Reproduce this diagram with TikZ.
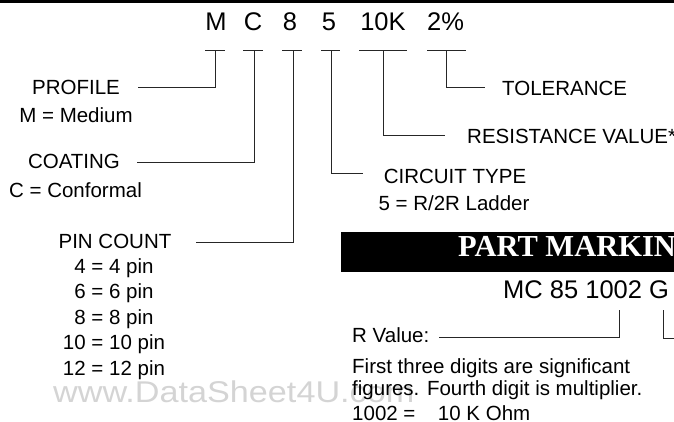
\documentclass[tikz,border=0pt]{standalone}
\usepackage{fontspec}
\usepackage{graphicx}
\setmainfont{Liberation Sans}
\newfontfamily\myserif{Liberation Serif}
\newcommand{\myfs}[1]{\fontsize{#1}{#1}\selectfont}
\begin{document}
\begin{tikzpicture}[x=1pt,y=-1pt,
  lbl/.style={font=\myfs{20.5}, inner sep=0pt, anchor=base},
  lblw/.style={font=\myfs{20.5}, inner sep=0pt, anchor=base west},
  big/.style={font=\myfs{25.5}, inner sep=0pt, anchor=base},
  conn/.style={draw=black!85, line width=1pt},
  tick/.style={draw=black!85, line width=1pt}]
\useasboundingbox (0,0) rectangle (674,421);
\clip (0,0) rectangle (674,421);
\fill[black] (0,0) rectangle (674,3.3);

% watermark
\node[inner sep=0pt, anchor=base west, text=black!17, font=\myfs{30}] (wm) at (53,402)
  {\scalebox{1.14}[1]{www.DataSheet4U.com}};

% top code letters
\node[big] (lM) at (216,30) {M};
\node[big] (lC) at (253,30) {C};
\node[big] (l8) at (290,30) {8};
\node[big] (l5) at (329,30) {5};
\node[big] (lK) at (383,30) {10K};
\node[big, anchor=base west] (lP) at (427,30) {2\%};

% tick coordinates
\coordinate (tM) at (215,50);  \coordinate (tMa) at (205,50); \coordinate (tMb) at (225,50);
\coordinate (tC) at (254,50);  \coordinate (tCa) at (243,50); \coordinate (tCb) at (263,50);
\coordinate (t8) at (293,50);  \coordinate (t8a) at (282,50); \coordinate (t8b) at (302,50);
\coordinate (t5) at (331,50);  \coordinate (t5a) at (321,50); \coordinate (t5b) at (340,50);
\coordinate (tK) at (383,50);  \coordinate (tKa) at (359,50); \coordinate (tKb) at (407,50);
\coordinate (tP) at (446,50);  \coordinate (tPa) at (427,50); \coordinate (tPb) at (466,50);
\foreach \a/\b in {tMa/tMb,tCa/tCb,t8a/t8b,t5a/t5b,tKa/tKb,tPa/tPb}
  \draw[tick] (\a) -- (\b);

% left labels
\node[lbl] (prof) at (76,94) {PROFILE};
\node[lbl] (profv) at (76,122) {M = Medium};
\node[lbl] (coat) at (74,168) {COATING};
\node[lbl] (coatv) at (75.5,197) {C = Conformal};
\node[lbl] (pin) at (115,248) {PIN COUNT};
\node[lbl] (pin4) at (114,273) {4 = 4 pin};
\node[lbl] (pin6) at (114,298.5) {6 = 6 pin};
\node[lbl] (pin8) at (114,324) {8 = 8 pin};
\node[lbl] (pin10) at (114,349.5) {10 = 10 pin};
\node[lbl] (pin12) at (114,375) {12 = 12 pin};

% right labels
\node[lblw] (tol) at (502,95) {TOLERANCE};
\node[lblw] (res) at (467,143) {RESISTANCE VALUE*};
\node[lbl] (circ) at (455,183) {CIRCUIT TYPE};
\node[lbl] (circv) at (454,210) {5 = R/2R Ladder};

% connectors
\draw[conn] (tM) |- ([xshift=18pt,yshift=-1pt]prof.east);
\draw[conn] (tC) |- ([xshift=17pt,yshift=-1.5pt]coat.east);
\draw[conn] (t8) |- ([xshift=24pt,yshift=-1.5pt]pin.east);
\draw[conn] (t5) |- ([xshift=-21pt,yshift=2.5pt]circ.west);
\draw[conn] (tK) |- ([xshift=-22pt]res.west);
\draw[conn] (tP) |- ([xshift=-17pt]tol.west);

% part marking
\node[fill=black, minimum width=333pt, minimum height=40pt, inner sep=0pt, anchor=north west] (bar) at (341,232) {};
\node[inner sep=0pt, anchor=base west, text=white, font=\myserif\bfseries\myfs{30.5}] (pm) at (458,256) {PART MARKING};
\node[inner sep=0pt, anchor=base west, font=\myfs{25.5}] (code) at (503,298) {MC 85 1002 G};

\coordinate (c1002) at (619,310);
\coordinate (cG) at (663,310);
\coordinate (gEnd) at (690,338);
\node[lblw] (rval) at (352,342) {R Value:};
\node[lblw] (d1) at (352,373) {First three digits are significant};
\node[lblw] (d2) at (352,395) {figures. Fourth digit is multiplier.};
\node[lblw] (d3) at (352,420) {1002 =\hspace{1.1em}10 K Ohm};
\draw[conn] (c1002) |- ([xshift=9pt,yshift=-2.5pt]rval.east);
\draw[conn] (cG) |- (gEnd);
\end{tikzpicture}
\end{document}
